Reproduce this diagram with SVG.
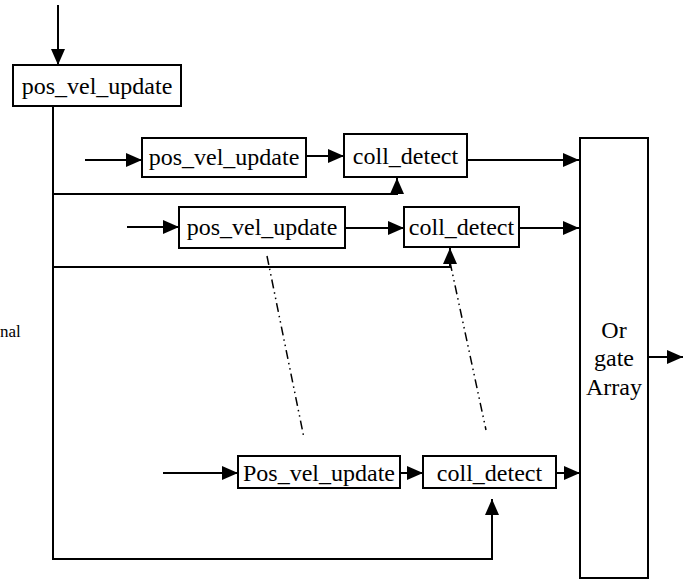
<svg xmlns="http://www.w3.org/2000/svg" width="692" height="583" viewBox="0 0 692 583">
<style>
.box{fill:#fff;stroke:#000;stroke-width:2}
.t{font-size:24px;fill:#000;text-anchor:middle}
.c{fill:none;stroke:#000;stroke-width:2}
.a{marker-end:url(#ah)}
.dd{fill:none;stroke:#000;stroke-width:1.5;stroke-dasharray:9 4 1.5 4 1.5 4}
</style>
<defs>
<marker id="ah" markerUnits="userSpaceOnUse" markerWidth="16" markerHeight="14" refX="16" refY="7" orient="auto">
<path d="M0,0 L16,7 L0,14 z" fill="#000"/>
</marker>
</defs>
<rect width="692" height="583" fill="#fff"/>
<g id="connectors">
<line class="c a" x1="58" y1="5" x2="58" y2="65"/>
<polyline class="c a" points="53,106 53,559 492,559 492,499"/>
<polyline class="c a" points="53,194 397,194 397,178"/>
<polyline class="c a" points="53,267 450,267 450,248"/>
<line class="c a" x1="85" y1="160" x2="142" y2="160"/>
<line class="c a" x1="306" y1="156" x2="344" y2="156"/>
<line class="c a" x1="467" y1="160" x2="579" y2="160"/>
<line class="c a" x1="127" y1="227" x2="179" y2="227"/>
<line class="c a" x1="345" y1="228" x2="404" y2="228"/>
<line class="c a" x1="519" y1="228" x2="579" y2="228"/>
<line class="c a" x1="163" y1="473" x2="238" y2="473"/>
<line class="c a" x1="400" y1="473" x2="423" y2="473"/>
<line class="c a" x1="556" y1="473" x2="580" y2="473"/>
<line class="c a" x1="648" y1="357" x2="683" y2="357"/>
<line class="dd" x1="267" y1="256" x2="304" y2="438"/>
<line class="dd" x1="450" y1="262" x2="486" y2="430"/>
</g>
<g font-family="Liberation Serif, Times New Roman, Times, serif">
<g id="pvu0">
<rect class="box" x="13" y="65" width="168" height="41"/>
<text class="t" x="97" y="94">pos_vel_update</text>
</g>
<g id="pvu1">
<rect class="box" x="142" y="138" width="164" height="39"/>
<text class="t" x="224" y="165">pos_vel_update</text>
</g>
<g id="cd1">
<rect class="box" x="344" y="134" width="123" height="43"/>
<text class="t" x="405.5" y="164">coll_detect</text>
</g>
<g id="pvu2">
<rect class="box" x="179" y="207" width="166" height="41"/>
<text class="t" x="262" y="235">pos_vel_update</text>
</g>
<g id="cd2">
<rect class="box" x="404" y="207" width="115" height="40"/>
<text class="t" x="461.5" y="235">coll_detect</text>
</g>
<g id="pvu3">
<rect class="box" x="238" y="456" width="162" height="32"/>
<text class="t" x="319" y="481">Pos_vel_update</text>
</g>
<g id="cd3">
<rect class="box" x="423" y="456" width="133" height="32"/>
<text class="t" x="489.5" y="481">coll_detect</text>
</g>
<g id="orgate">
<rect class="box" x="580" y="138" width="68" height="440"/>
<text class="t" x="614" y="338">Or</text>
<text class="t" x="614" y="366">gate</text>
<text class="t" x="614" y="395">Array</text>
</g>
<g id="label">
<text x="0" y="337" font-size="17" fill="#000">nal</text>
</g>
</g>
</svg>
